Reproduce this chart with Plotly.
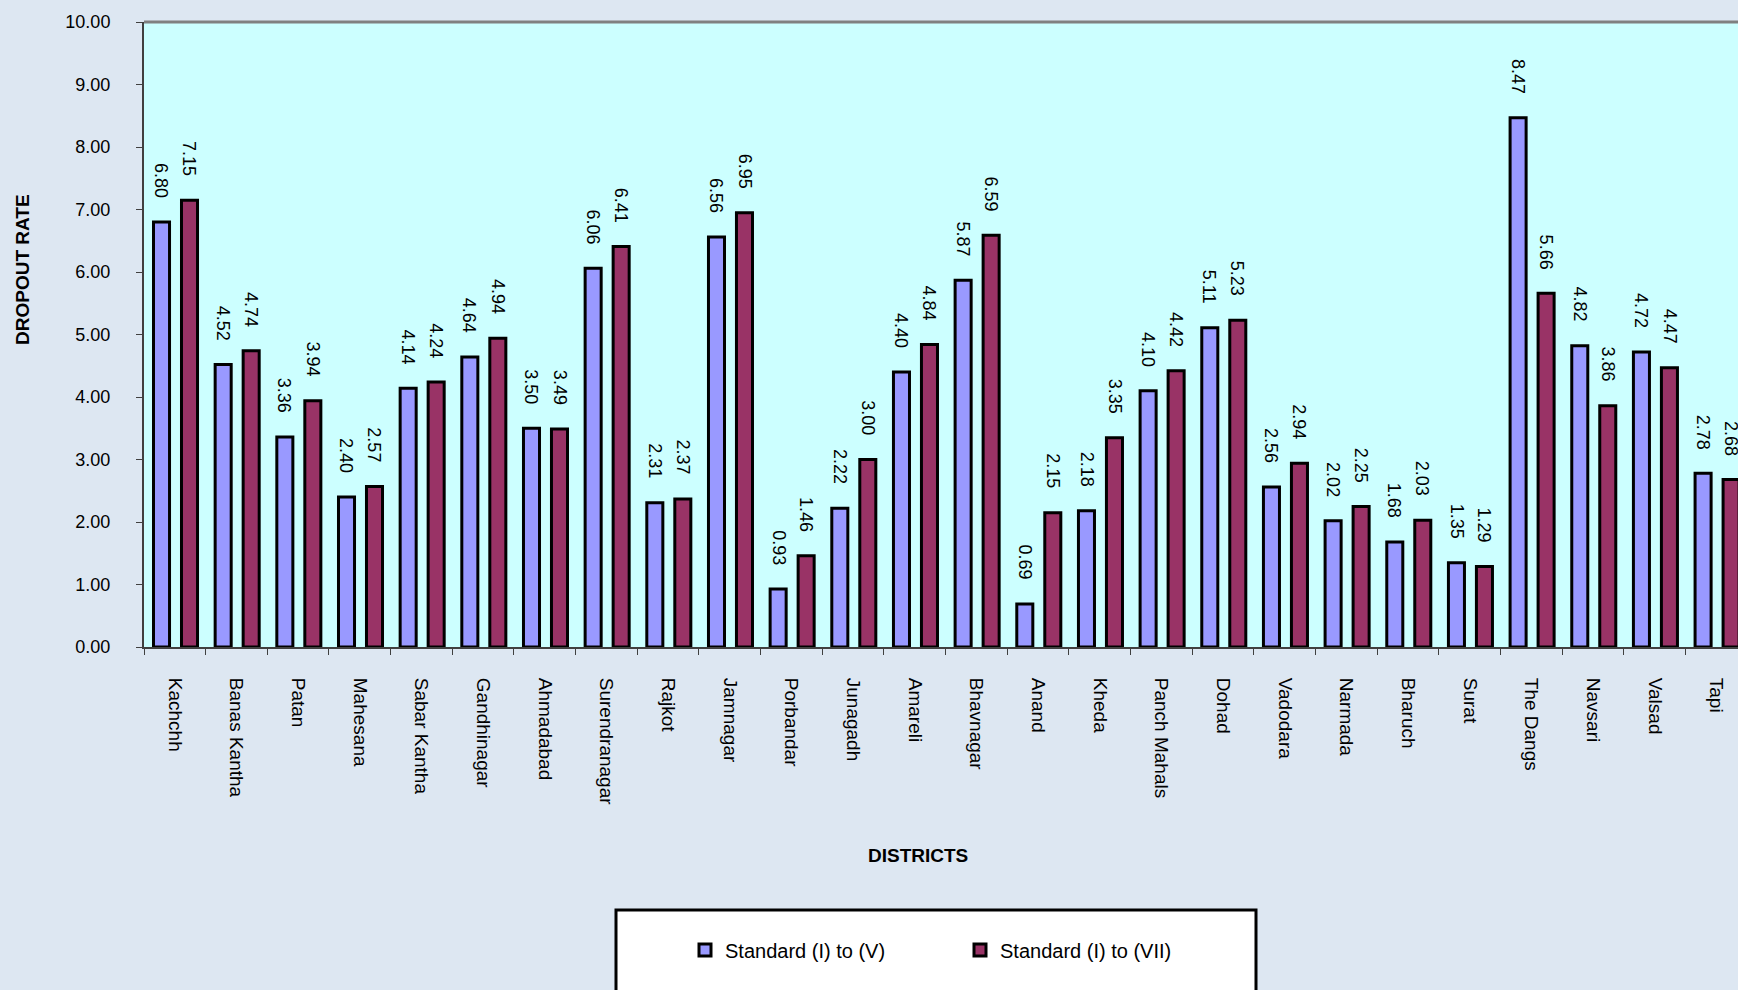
import plotly.graph_objects as go

districts = ["Kachchh", "Banas Kantha", "Patan", "Mahesana", "Sabar Kantha", "Gandhinagar",
             "Ahmadabad", "Surendranagar", "Rajkot", "Jamnagar", "Porbandar", "Junagadh",
             "Amareli", "Bhavnagar", "Anand", "Kheda", "Panch Mahals", "Dohad", "Vadodara",
             "Narmada", "Bharuch", "Surat", "The Dangs", "Navsari", "Valsad", "Tapi"]
std_1_5 = [6.80, 4.52, 3.36, 2.40, 4.14, 4.64, 3.50, 6.06, 2.31, 6.56, 0.93, 2.22, 4.40,
           5.87, 0.69, 2.18, 4.10, 5.11, 2.56, 2.02, 1.68, 1.35, 8.47, 4.82, 4.72, 2.78]
std_1_7 = [7.15, 4.74, 3.94, 2.57, 4.24, 4.94, 3.49, 6.41, 2.37, 6.95, 1.46, 3.00, 4.84,
           6.59, 2.15, 3.35, 4.42, 5.23, 2.94, 2.25, 2.03, 1.29, 5.66, 3.86, 4.47, 2.68]
series_names = ["Standard (I) to (V)", "Standard (I) to (VII)"]
y_ticks = [0, 1, 2, 3, 4, 5, 6, 7, 8, 9, 10]

BLUE = "#9999FF"
MAROON = "#993366"
FONT = "Liberation Sans, Arial, sans-serif"

W, H = 1738, 990
L, T, B = 144, 22, 343
PW = W - L
PH = H - T - B


def px_x(x):
    return (x - L) / PW


def px_y(y):
    return (H - B - y) / PH


fig = go.Figure()
fig.add_trace(go.Bar(x=districts, y=std_1_5, name=series_names[0], marker_color=BLUE,
                     marker_line=dict(color="black", width=3), width=0.26, offset=-0.346))
fig.add_trace(go.Bar(x=districts, y=std_1_7, name=series_names[1], marker_color=MAROON,
                     marker_line=dict(color="black", width=3), width=0.26, offset=0.108))

annotations = []
for vals, shift in ((std_1_5, -13.3), (std_1_7, 14.7)):
    for d, v in zip(districts, vals):
        annotations.append(dict(x=d, y=v, xref="x", yref="y", text=f"{v:.2f}", textangle=90,
                                showarrow=False, xshift=shift, yshift=22, yanchor="bottom",
                                xanchor="center", font=dict(family=FONT, size=18, color="black")))

annotations.append(dict(x=px_x(22), y=px_y(269), xref="paper", yref="paper",
                        text="<b>DROPOUT RATE</b>", showarrow=False, textangle=-90,
                        xanchor="center", yanchor="middle",
                        font=dict(family=FONT, size=19, color="black")))
annotations.append(dict(x=px_x(918), y=px_y(855), xref="paper", yref="paper",
                        text="<b>DISTRICTS</b>", showarrow=False,
                        xanchor="center", yanchor="middle",
                        font=dict(family=FONT, size=19, color="black")))

fig.update_layout(
    width=W, height=H,
    margin=dict(l=L, r=0, t=T, b=B, pad=0),
    paper_bgcolor="#dde7f2",
    plot_bgcolor="#CCFFFF",
    barmode="group",
    font=dict(family=FONT, color="black"),
    showlegend=True,
    legend=dict(orientation="h", x=px_x(716 - 31), xanchor="left",
                y=px_y(950), yanchor="middle", bgcolor="rgba(0,0,0,0)",
                font=dict(family=FONT, size=20), entrywidth=230, itemwidth=30),
    annotations=annotations,
    shapes=[
        dict(type="rect", xref="paper", yref="paper",
             x0=px_x(616), x1=px_x(1256), y0=px_y(1010), y1=px_y(910),
             fillcolor="white", line=dict(color="black", width=3), layer="below"),
        dict(type="line", xref="paper", yref="paper", x0=0, x1=1, y0=1, y1=1,
             line=dict(color="#808080", width=3)),
    ],
)
fig.update_xaxes(range=[-0.5, 25.35], showgrid=False, showline=True, linecolor="#404040",
                 linewidth=2, ticks="outside", ticklen=6, tickcolor="#404040", tickwidth=1,
                 tickson="boundaries", tickangle=90, ticklabelstandoff=25,
                 tickfont=dict(family=FONT, size=19, color="black"))
fig.update_yaxes(range=[0, 10], tickvals=y_ticks, tickformat=".2f", showgrid=False,
                 showline=True, linecolor="#404040", linewidth=2, ticks="outside", ticklen=6,
                 tickcolor="#404040", ticklabelstandoff=22, zeroline=False,
                 tickfont=dict(family=FONT, size=18, color="black"))

fig.write_html("out.html", config={"displayModeBar": False, "staticPlot": True},
               post_script="document.body.style.margin='0';document.body.style.overflow='hidden';")
